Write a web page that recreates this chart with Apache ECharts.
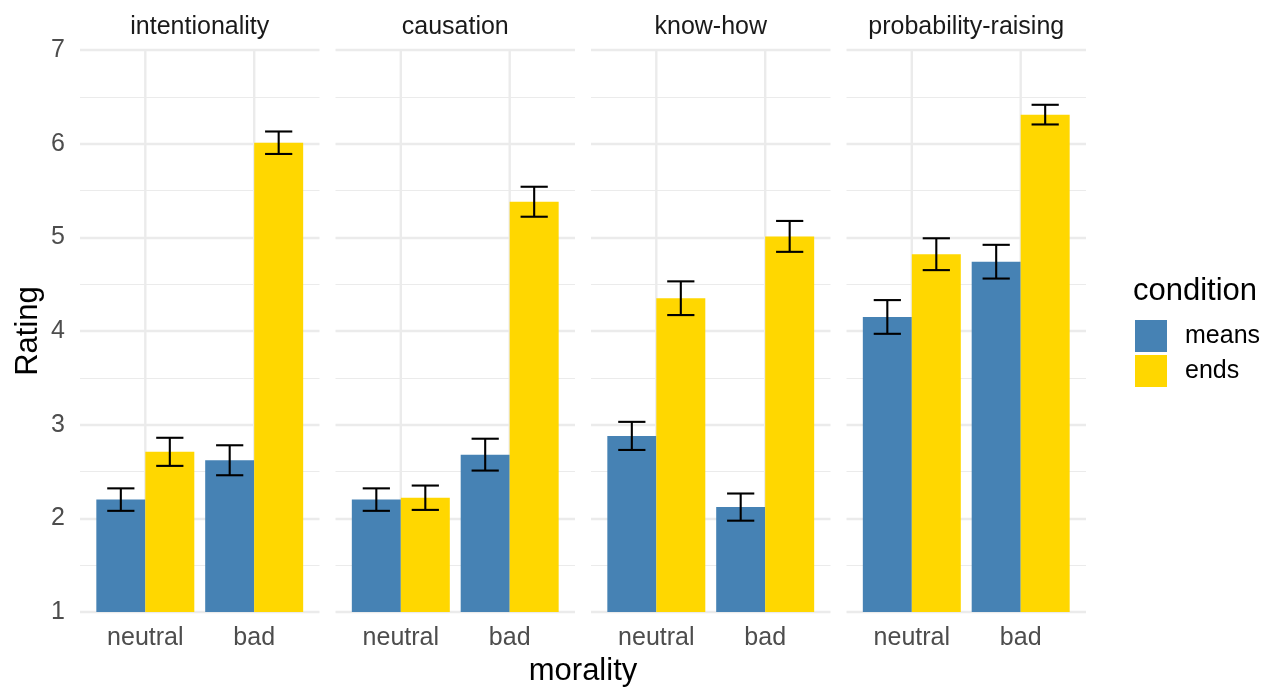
<!DOCTYPE html>
<html>
<head>
<meta charset="utf-8">
<script src="https://cdn.jsdelivr.net/npm/echarts@6/dist/echarts.min.js"></script>
<style>
  html, body { margin: 0; padding: 0; background: #ffffff; }
  #chart { width: 1272px; height: 687px; }
</style>
</head>
<body>
<div id="chart"></div>
<script>
// Facets, x categories and fill groups
const facets = ['intentionality', 'causation', 'know-how', 'probability-raising'];
const moralityLevels = ['neutral', 'bad'];
const conditions = ['means', 'ends'];

// Mean rating per facet, ordered [neutral, bad]
const meansRating = [[2.20, 2.62], [2.20, 2.68], [2.88, 2.12], [4.15, 4.74]];
const endsRating  = [[2.71, 6.01], [2.22, 5.38], [4.35, 5.01], [4.82, 6.31]];

// Standard errors, same layout as the ratings
const meansSE = [[0.12, 0.16], [0.12, 0.17], [0.15, 0.145], [0.18, 0.18]];
const endsSE  = [[0.15, 0.12], [0.13, 0.16], [0.18, 0.165], [0.17, 0.105]];

// Rating scale ticks
const yTicks = [1, 2, 3, 4, 5, 6, 7];

const ratings = [meansRating, endsRating];
const errors = [meansSE, endsSE];
const fills = ['#4682B4', '#FFD700'];

// Panel geometry (pixels) and dodge geometry (x units)
const PANEL_LEFT = 80, PANEL_STEP = 255.5, PANEL_W = 239.5;
const PANEL_TOP = 50, PANEL_H = 562;
const X_MIN = 0.4, X_MAX = 2.6;
const BAR_W = 0.45, WHISKER = 0.25;
const Y_MIN = yTicks[0], Y_MAX = yTicks[yTicks.length - 1];
const GRID_COLOR = '#EBEBEB';
const FONT = 'Liberation Sans, Arial, Helvetica, sans-serif';

function barRenderer(cIdx) {
  return function (params, api) {
    const center = api.value(0) + 1 + (cIdx - 0.5) * BAR_W;
    const v = api.value(1);
    const tl = api.coord([center - BAR_W / 2, v]);
    const br = api.coord([center + BAR_W / 2, Y_MIN]);
    return {
      type: 'rect',
      shape: { x: tl[0], y: tl[1], width: br[0] - tl[0], height: br[1] - tl[1] },
      style: { fill: api.visual('color') }
    };
  };
}

function errorRenderer(params, api) {
  const center = api.value(0) + 1 + (api.value(1) - 0.5) * BAR_W;
  const m = api.value(2), se = api.value(3);
  const top = api.coord([center, m + se]);
  const bot = api.coord([center, m - se]);
  const l = api.coord([center - WHISKER / 2, m])[0];
  const r = api.coord([center + WHISKER / 2, m])[0];
  const st = { stroke: '#000000', lineWidth: 2.1 };
  return {
    type: 'group',
    children: [
      { type: 'line', shape: { x1: top[0], y1: top[1], x2: bot[0], y2: bot[1] }, style: st },
      { type: 'line', shape: { x1: l, y1: top[1], x2: r, y2: top[1] }, style: st },
      { type: 'line', shape: { x1: l, y1: bot[1], x2: r, y2: bot[1] }, style: st }
    ]
  };
}

function vGridRenderer(params, api) {
  const x = api.value(0);
  const a = api.coord([x, Y_MAX]);
  const b = api.coord([x, Y_MIN]);
  return {
    type: 'line',
    shape: { x1: a[0], y1: a[1], x2: b[0], y2: b[1] },
    style: { stroke: GRID_COLOR, lineWidth: 2.4 }
  };
}

const grids = [], xAxes = [], yAxes = [], series = [], graphics = [];

facets.forEach((facet, f) => {
  const left = PANEL_LEFT + f * PANEL_STEP;
  grids.push({ left: left, top: PANEL_TOP, width: PANEL_W, height: PANEL_H, containLabel: false, outerBoundsMode: 'none' });

  xAxes.push({
    type: 'value', gridIndex: f, min: X_MIN, max: X_MAX,
    axisLine: { show: false }, axisTick: { show: false }, splitLine: { show: false },
    axisLabel: {
      customValues: moralityLevels.map((_, i) => i + 1),
      formatter: v => moralityLevels[Math.round(v) - 1] || '',
      fontSize: 25, color: '#4D4D4D', fontFamily: FONT, margin: 14
    }
  });

  yAxes.push({
    type: 'value', gridIndex: f, min: Y_MIN, max: Y_MAX, interval: 1,
    axisLine: { show: false }, axisTick: { show: false },
    axisLabel: { show: f === 0, fontSize: 25, color: '#4D4D4D', fontFamily: FONT, margin: 15 },
    splitLine: { show: true, lineStyle: { color: GRID_COLOR, width: 2.4 } },
    minorTick: { show: false, splitNumber: 2 },
    minorSplitLine: { show: true, lineStyle: { color: GRID_COLOR, width: 1.2 } },
    name: f === 0 ? 'Rating' : '',
    nameLocation: 'middle', nameRotate: 90, nameGap: 36,
    nameTextStyle: { fontSize: 31, color: '#000000', fontFamily: FONT }
  });

  series.push({
    type: 'custom', name: 'vgrid', xAxisIndex: f, yAxisIndex: f, silent: true, z: 1,
    renderItem: vGridRenderer,
    data: moralityLevels.map((_, i) => [i + 1])
  });

  conditions.forEach((cond, c) => {
    series.push({
      type: 'custom', name: cond, xAxisIndex: f, yAxisIndex: f, silent: true, z: 2,
      itemStyle: { color: fills[c] },
      renderItem: barRenderer(c),
      data: moralityLevels.map((_, i) => [i, ratings[c][f][i]])
    });
  });

  const errData = [];
  conditions.forEach((cond, c) => {
    moralityLevels.forEach((_, i) => errData.push([i, c, ratings[c][f][i], errors[c][f][i]]));
  });
  series.push({
    type: 'custom', name: 'se', xAxisIndex: f, yAxisIndex: f, silent: true, z: 3,
    renderItem: errorRenderer,
    data: errData
  });

  // facet strip label
  graphics.push({
    type: 'text', x: left + PANEL_W / 2, y: 27,
    style: { text: facet, fontSize: 25, fill: '#1A1A1A', fontFamily: FONT, align: 'center', verticalAlign: 'middle' }
  });
});

// x-axis title
graphics.push({
  type: 'text', x: PANEL_LEFT + (3 * PANEL_STEP + PANEL_W) / 2, y: 671,
  style: { text: 'morality', fontSize: 31, fill: '#000000', fontFamily: FONT, align: 'center', verticalAlign: 'middle' }
});
// legend title
graphics.push({
  type: 'text', x: 1133, y: 291,
  style: { text: 'condition', fontSize: 31, fill: '#000000', fontFamily: FONT, align: 'left', verticalAlign: 'middle' }
});

const chart = echarts.init(document.getElementById('chart'), null, { renderer: 'canvas' });
chart.setOption({
  backgroundColor: '#ffffff',
  animation: false,
  grid: grids,
  xAxis: xAxes,
  yAxis: yAxes,
  series: series,
  graphic: graphics,
  legend: {
    data: conditions,
    orient: 'vertical',
    left: 1135, top: 320,
    padding: 0,
    itemWidth: 32, itemHeight: 32, itemGap: 3,
    icon: 'rect',
    selectedMode: false,
    textStyle: { fontSize: 25, color: '#000000', fontFamily: FONT, padding: [0, 0, 0, 13] }
  }
});
</script>
</body>
</html>
